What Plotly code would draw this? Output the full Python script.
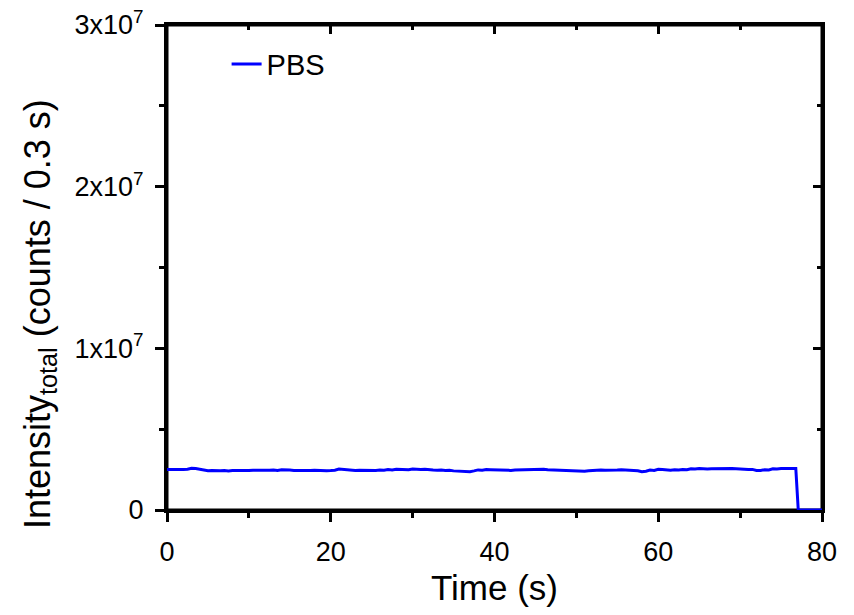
import plotly.graph_objects as go

# Time (s): samples every 0.5 s up to the drop, then zero to the end
time_s = [i * 0.5 for i in range(154)] + [76.8, 77.1, 80.0]
# Total intensity (counts / 0.3 s) (units of 1e6)
intensity_m = [
    2.50, 2.49, 2.50, 2.51, 2.50, 2.52, 2.58, 2.56, 2.51, 2.47,   # 0 - 4.5
    2.43, 2.44, 2.42, 2.43, 2.44, 2.42, 2.45, 2.44, 2.43, 2.45,   # 5 - 9.5
    2.44, 2.46, 2.45, 2.47, 2.44, 2.46, 2.48, 2.45, 2.49, 2.50,   # 10 - 14.5
    2.47, 2.45, 2.44, 2.46, 2.44, 2.45, 2.46, 2.44, 2.45, 2.43,   # 15 - 19.5
    2.44, 2.46, 2.53, 2.50, 2.47, 2.45, 2.44, 2.46, 2.45, 2.44,   # 20 - 24.5
    2.46, 2.45, 2.47, 2.46, 2.50, 2.48, 2.52, 2.50, 2.51, 2.49,   # 25 - 29.5
    2.53, 2.51, 2.50, 2.52, 2.48, 2.47, 2.46, 2.48, 2.45, 2.46,   # 30 - 34.5
    2.42, 2.40, 2.37, 2.38, 2.37, 2.42, 2.48, 2.46, 2.50, 2.49,   # 35 - 39.5
    2.48, 2.47, 2.46, 2.44, 2.45, 2.47, 2.48, 2.46, 2.48, 2.50,   # 40 - 44.5
    2.50, 2.52, 2.52, 2.49, 2.48, 2.46, 2.45, 2.47, 2.46, 2.44,   # 45 - 49.5
    2.44, 2.42, 2.40, 2.43, 2.46, 2.45, 2.48, 2.46, 2.45, 2.47,   # 50 - 54.5
    2.47, 2.49, 2.49, 2.46, 2.45, 2.43, 2.37, 2.40, 2.47, 2.45,   # 55 - 59.5
    2.52, 2.50, 2.48, 2.46, 2.49, 2.47, 2.51, 2.49, 2.55, 2.53,   # 60 - 64.5
    2.57, 2.54, 2.53, 2.55, 2.56, 2.54, 2.55, 2.57, 2.56, 2.55,   # 65 - 69.5
    2.52, 2.53, 2.50, 2.51, 2.44, 2.45, 2.49, 2.48, 2.55, 2.53,   # 70 - 74.5
    2.57, 2.56, 2.56, 2.57,                                       # 75 - 76.5
    2.57, 0.0, 0.0,                                               # 76.8, 77.1, 80
]
intensity = [v * 1e6 for v in intensity_m]

x_tickvals = [0, 20, 40, 60, 80]
y_tickvals = [0, 1e7, 2e7, 3e7]
y_ticktext = ["0", "1x10<sup>7</sup>", "2x10<sup>7</sup>", "3x10<sup>7</sup>"]
y_title = "Intensity<sub>total</sub> (counts / 0.3 s)"

FONT = "Liberation Sans, Arial, sans-serif"
TICKW = 3

fig = go.Figure()
fig.add_trace(go.Scatter(x=time_s, y=intensity, mode="lines", name="PBS",
                         line=dict(color="#0000FF", width=3), cliponaxis=False))
# empty trace to anchor the mirrored (top/right) tick axes
fig.add_trace(go.Scatter(x=[None], y=[None], xaxis="x2", yaxis="y2",
                         showlegend=False, hoverinfo="skip"))

fig.update_layout(
    width=838, height=599,
    margin=dict(l=159, r=24, t=17, b=97, autoexpand=False),
    plot_bgcolor="white", paper_bgcolor="white",
    font=dict(family=FONT, color="black"),
    showlegend=True,
    legend=dict(x=0.091, y=0.972, xanchor="left", yanchor="top",
                bgcolor="rgba(0,0,0,0)", font=dict(size=29, family=FONT)),
    xaxis=dict(range=[0, 80], tickvals=x_tickvals, ticks="outside", ticklen=9,
               tickwidth=TICKW, tickcolor="black", showline=True, linewidth=3,
               linecolor="black", mirror=True, showgrid=False, zeroline=False,
               automargin=False, tickfont=dict(size=27, family=FONT),
               ticklabelstandoff=7, ticklabeloverflow="allow", layer="below traces",
               minor=dict(dtick=10, tick0=0, ticklen=5, tickwidth=TICKW,
                          tickcolor="black", ticks="outside", showgrid=False),
               title=dict(text="Time (s)", font=dict(size=35, family=FONT), standoff=22)),
    yaxis=dict(range=[0, 3e7], tickvals=y_tickvals, ticktext=y_ticktext,
               ticks="outside", ticklen=9, tickwidth=TICKW, tickcolor="black",
               showline=True, linewidth=3, linecolor="black", mirror=True,
               showgrid=False, zeroline=False, automargin=False,
               tickfont=dict(size=27, family=FONT), ticklabelstandoff=6,
               ticklabeloverflow="allow", layer="below traces",
               minor=dict(dtick=5e6, tick0=0, ticklen=5, tickwidth=TICKW,
                          tickcolor="black", ticks="outside", showgrid=False)),
    xaxis2=dict(range=[0, 80], overlaying="x", side="top", anchor="y",
                tickvals=x_tickvals, ticks="inside", ticklen=9, tickwidth=TICKW,
                tickcolor="black", showticklabels=False, showgrid=False,
                zeroline=False, showline=False, automargin=False,
                minor=dict(dtick=10, tick0=0, ticklen=5, tickwidth=TICKW,
                           tickcolor="black", ticks="inside", showgrid=False)),
    yaxis2=dict(range=[0, 3e7], overlaying="y", side="right", anchor="x",
                tickvals=y_tickvals, ticks="inside", ticklen=9, tickwidth=TICKW,
                tickcolor="black", showticklabels=False, showgrid=False,
                zeroline=False, showline=False, automargin=False,
                minor=dict(dtick=5e6, tick0=0, ticklen=5, tickwidth=TICKW,
                           tickcolor="black", ticks="inside", showgrid=False)),
    shapes=[dict(type="rect", xref="paper", yref="paper", x0=0, x1=1, y0=0, y1=1,
                 line=dict(color="black", width=3), layer="below")],
    annotations=[dict(text=y_title, textangle=-90, xref="paper", yref="paper",
                      x=-0.194, y=0.404, xanchor="center", yanchor="middle",
                      showarrow=False, font=dict(size=36, family=FONT))],
)

fig.write_html("out.html")
